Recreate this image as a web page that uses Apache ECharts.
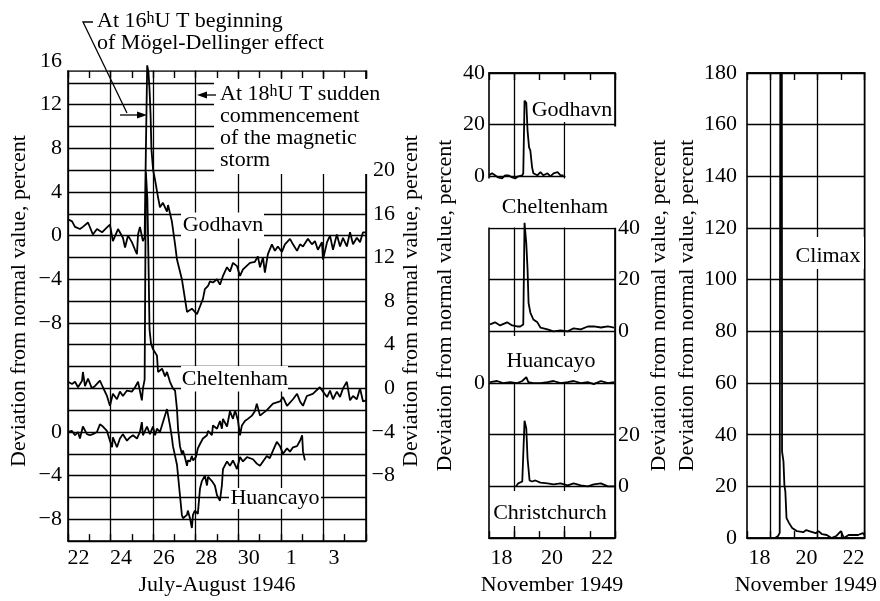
<!DOCTYPE html>
<html><head><meta charset="utf-8">
<script src="https://cdn.jsdelivr.net/npm/echarts@6/dist/echarts.min.js"></script>
<style>html,body{margin:0;padding:0;background:#fff}#c{width:880px;height:601px}</style>
</head><body><div id="c"></div>
<script>
// ---------- DATA (x = day of month; July 1946 days > 31 are August) ----------
const godhavn1946 = [[22.0,1.5],[22.19,1.3],[22.33,0.8],[22.56,0.6],[22.7,0.8],[22.94,1.2],[23.17,0.1],[23.36,0.6],[23.6,0.3],[23.83,0.75],[23.97,1.0],[24.11,-0.5],[24.35,0.6],[24.58,-0.2],[24.68,-1.1],[24.82,0.0],[25.0,-0.6],[25.15,-1.3],[25.24,-1.7],[25.29,0.1],[25.38,0.8],[25.52,-0.5],[25.6,-0.2],[25.66,8],[25.72,15.6],[25.78,15.0],[25.83,13.4],[25.88,11],[25.92,7.9],[26.0,6.0],[26.09,5.1],[26.23,3.5],[26.32,2.6],[26.46,3.0],[26.65,2.2],[26.7,2.8],[26.88,1.3],[26.93,0.6],[27.03,-0.8],[27.12,-2.2],[27.35,-4.0],[27.59,-7.0],[27.82,-6.7],[28.06,-7.2],[28.2,-6.5],[28.34,-5.8],[28.43,-4.9],[28.58,-4.6],[28.67,-4.2],[28.81,-4.3],[29.0,-4.0],[29.14,-4.5],[29.28,-3.7],[29.47,-2.9],[29.61,-3.3],[29.75,-2.5],[29.94,-2.8],[30.08,-3.7],[30.22,-3.1],[30.55,-2.5],[30.78,-2.4],[30.92,-1.9],[31.02,-2.9],[31.16,-2.0],[31.25,-3.4],[31.39,-1.7],[31.58,-0.8],[31.72,-1.4],[31.86,-1.0],[32.05,-1.5],[32.19,-0.8],[32.43,-0.3],[32.57,-0.8],[32.76,-1.4],[32.9,-0.8],[33.04,-1.0],[33.27,-0.3],[33.46,-0.8],[33.6,-0.5],[33.74,-1.3],[33.93,-0.6],[33.98,-2.2],[34.17,-0.6],[34.31,0],[34.45,-1.3],[34.63,0.1],[34.78,-1.0],[34.92,-0.2],[35.1,-1.0],[35.25,0.3],[35.39,-0.8],[35.57,-0.2],[35.72,-0.6],[35.86,0.3],[36.0,0.3]];
const cheltenham1946 = [[22.0,0.6],[22.19,0.4],[22.33,0.6],[22.47,0.1],[22.66,0.7],[22.7,1.5],[22.8,0.2],[22.94,0.9],[23.12,0],[23.26,0.2],[23.5,0.7],[23.64,0.1],[23.83,-0.7],[23.97,-1.6],[24.11,-0.5],[24.3,-1.0],[24.44,-0.3],[24.58,-0.7],[24.77,-0.2],[25.0,-0.3],[25.15,0.1],[25.29,0.6],[25.47,-1.1],[25.52,0],[25.6,0.8],[25.66,19.8],[25.73,17.3],[25.78,11.8],[25.83,5.4],[25.9,4.1],[25.99,3.6],[26.18,3.0],[26.23,1.5],[26.42,1.8],[26.56,1.1],[26.65,1.5],[26.79,0.6],[26.93,0],[27.03,-0.2],[27.12,-1.9],[27.17,-3.7],[27.26,-5.3],[27.35,-6.0],[27.4,-5.7],[27.49,-6.3],[27.59,-7.1],[27.63,-6.6],[27.73,-6.7],[27.82,-6.2],[27.87,-6.6],[28.01,-6.3],[28.1,-5.5],[28.2,-5.1],[28.34,-4.6],[28.53,-4.3],[28.58,-3.9],[28.76,-4.3],[28.81,-3.4],[29.0,-3.7],[29.14,-3.0],[29.23,-3.7],[29.28,-2.8],[29.47,-3.5],[29.61,-2.1],[29.75,-2.8],[29.85,-2.0],[29.99,-3.0],[30.08,-4.3],[30.17,-3.4],[30.31,-3.0],[30.45,-2.8],[30.64,-2.5],[30.78,-2.1],[30.87,-1.4],[31.02,-2.5],[31.34,-2.0],[31.63,-1.4],[31.96,-1.2],[32.1,-0.8],[32.29,-1.6],[32.57,-1.0],[32.76,-0.5],[32.9,-1.2],[33.04,-1.6],[33.22,-0.7],[33.5,-0.5],[33.83,0.1],[33.98,-0.3],[34.17,-0.8],[34.31,-0.2],[34.45,-1.0],[34.63,-0.3],[34.78,-0.8],[34.92,0],[35.1,0.6],[35.25,-1.1],[35.39,-0.7],[35.57,-1.0],[35.72,0],[35.86,-1.2],[36.0,-1.1]];
const huancayo1946 = [[22.0,0],[22.19,0.1],[22.33,-0.3],[22.47,0],[22.56,-0.6],[22.7,0.5],[22.89,-0.2],[23.03,-0.3],[23.17,-0.2],[23.36,0],[23.5,0.7],[23.64,0.5],[23.83,0.1],[23.97,-0.8],[24.07,-1.4],[24.11,-0.5],[24.3,-1.4],[24.44,-0.6],[24.58,-0.2],[24.77,-0.8],[24.91,-0.5],[25.05,-0.3],[25.24,-0.6],[25.38,0],[25.47,0.9],[25.52,-0.3],[25.71,0.5],[25.85,-0.2],[25.99,0.5],[26.09,-0.3],[26.18,0.3],[26.32,0],[26.46,0.9],[26.65,2.1],[26.79,0.6],[26.88,-0.5],[26.93,-1.3],[27.12,-3.0],[27.26,-5.8],[27.35,-7.6],[27.4,-7.9],[27.59,-7.6],[27.63,-7.2],[27.73,-7.9],[27.82,-8.8],[27.87,-7.6],[27.96,-7.2],[28.1,-7.5],[28.2,-5.2],[28.29,-4.5],[28.43,-4.0],[28.53,-4.9],[28.58,-4.1],[28.76,-4.5],[28.9,-4.9],[29.0,-5.8],[29.14,-6.3],[29.23,-4.9],[29.28,-3.4],[29.47,-2.7],[29.61,-3.1],[29.75,-2.6],[29.94,-3.4],[30.08,-2.3],[30.22,-2.7],[30.41,-2.3],[30.69,-2.5],[30.87,-2.9],[31.02,-3.1],[31.34,-2.2],[31.48,-2.4],[31.63,-1.7],[31.81,-0.9],[31.96,-1.3],[32.1,-2.0],[32.29,-1.5],[32.43,-1.8],[32.57,-1.4],[32.76,-1.3],[32.9,-0.8],[33.0,-0.3],[33.04,-1.8],[33.13,-2.6]];

const godhavn1949 = [[18.0,0.4],[18.12,1.2],[18.24,0.4],[18.36,-0.4],[18.52,-0.8],[18.64,0.4],[18.76,0.4],[18.92,-0.4],[19.04,-0.8],[19.16,0],[19.32,0.4],[19.36,1.2],[19.41,29.3],[19.48,28.5],[19.53,17.7],[19.59,11.2],[19.64,10.0],[19.71,3.5],[19.76,1.2],[19.92,0.4],[20.04,1.6],[20.16,0.4],[20.32,1.2],[20.44,0],[20.56,1.2],[20.72,1.6],[20.84,0.4],[20.96,0.4]];
const cheltenham1949 = [[18.04,2.7],[18.24,3.5],[18.44,2.3],[18.72,3.5],[18.92,2.3],[19.12,1.9],[19.24,1.9],[19.36,2.7],[19.41,42],[19.48,34],[19.53,24],[19.57,11],[19.64,7.3],[19.76,4.6],[19.92,3.5],[20.04,1.5],[20.32,0.8],[20.56,0],[20.84,0.4],[21.12,0],[21.36,1.2],[21.64,0.8],[21.92,1.9],[22.16,1.9],[22.44,1.5],[22.72,1.9],[22.96,1.5]];
const huancayo1949 = [[18.04,0.4],[18.32,0.8],[18.56,0],[18.84,0.4],[19.12,0],[19.32,0.8],[19.48,2.3],[19.56,0.4],[19.76,0],[20.04,0],[20.32,0.4],[20.56,0.8],[20.84,0],[21.12,0.4],[21.36,0.8],[21.64,0],[21.92,0.4],[22.16,-0.4],[22.44,0.8],[22.72,0],[22.96,0.4]];
const christchurch1949 = [[19.07,0],[19.16,1.2],[19.32,1.9],[19.41,25.4],[19.48,22.4],[19.53,10.8],[19.61,2.3],[19.71,1.9],[19.84,2.3],[20.04,1.5],[20.32,1.2],[20.56,0.8],[20.84,1.2],[21.12,0.4],[21.36,1.2],[21.64,0.4],[21.92,0],[22.16,0.8],[22.44,1.2],[22.72,0],[22.96,0]];
const climax1949 = [[19.19,0],[19.32,0.8],[19.39,2],[19.46,500],[19.49,33.5],[19.55,29.7],[19.59,20.4],[19.63,18],[19.68,7.7],[19.79,5.8],[19.92,3.9],[20.12,2.7],[20.39,2.3],[20.52,3.1],[20.64,2.7],[20.92,1.9],[21.04,2.7],[21.19,1.5],[21.39,1.2],[21.59,0],[21.79,0.8],[21.99,2.7],[22.12,0],[22.32,1.2],[22.52,1.2],[22.72,1.2],[22.92,1.9],[22.99,1.2]];

const yTitle = 'Deviation from normal value, percent';
const xTitle1946 = 'July-August 1946';
const xTitle1949 = 'November 1949';

// ---------- STYLE ----------
const FONT = '"Liberation Serif", "DejaVu Serif", serif';
const FS = 22;
const BLACK = '#000';
const minus = v => String(v).replace('-', '\u2212');
const lbl = (extra) => Object.assign({color: BLACK, fontFamily: FONT, fontSize: FS}, extra || {});
const nameStyle = {color: BLACK, fontFamily: FONT, fontSize: FS};

function xAx(grid, pos, min, max, opts) {
  const o = {
    type: 'value', gridIndex: grid, position: pos, min: min, max: max, interval: 1,
    axisLine: {show: true, onZero: false, lineStyle: {color: BLACK, width: 1.6}},
    axisTick: {show: true, inside: true, length: 7, lineStyle: {color: BLACK, width: 1.4}},
    axisLabel: {show: false},
    splitLine: {show: false}
  };
  return Object.assign(o, opts || {});
}
function yAx(grid, pos, min, max, interval, keep, opts) {
  const o = {
    type: 'value', gridIndex: grid, position: pos, min: min, max: max, interval: interval,
    axisLine: {show: false}, axisTick: {show: false},
    axisLabel: lbl({formatter: v => keep(v) ? minus(v) : '', showMinLabel: true, showMaxLabel: true}),
    splitLine: {show: false}
  };
  return Object.assign(o, opts || {});
}
function line(data, xi, yi) {
  return {type: 'line', data: data, xAxisIndex: xi, yAxisIndex: yi, showSymbol: false, symbol: 'none',
    lineStyle: {color: BLACK, width: 1.8}, z: 5, clip: true, animation: false};
}
const GRIDLINE = {color: BLACK, width: 1.3};

const option = {
  animation: false,
  backgroundColor: '#fff',
  grid: [
    {left: 68, top: 61, width: 298, height: 482, show: false},
    {left: 489, top: 73, width: 126, height: 467, show: true, borderColor: BLACK, borderWidth: 1.6, backgroundColor: 'transparent'},
    {left: 747, top: 73, width: 125, height: 467, show: true, borderColor: BLACK, borderWidth: 1.6, backgroundColor: 'transparent'}
  ],
  xAxis: [
    xAx(0, 'bottom', 22, 36, {
      axisLabel: lbl({margin: 6, padding: [0, 0, 0, 21], showMinLabel: true,
        formatter: v => (v % 2 !== 0 || v >= 36) ? '' : String(v > 31 ? v - 31 : v)}),
      splitLine: {show: true, lineStyle: {color: [BLACK, 'rgba(0,0,0,0)'], width: 1.3}},
      name: xTitle1946, nameLocation: 'middle', nameGap: 29, nameTextStyle: nameStyle
    }),
    xAx(0, 'top', 22, 36, {offset: -10}),
    xAx(1, 'bottom', 18, 23, {
      axisLabel: lbl({margin: 9, padding: [0, 0, 0, 25], showMinLabel: true,
        formatter: v => (v % 2 !== 0 || v >= 23) ? '' : String(v)}),
      splitLine: {show: true, lineStyle: {color: ['rgba(0,0,0,0)', BLACK], width: 1.3}},
      name: xTitle1949, nameLocation: 'middle', nameGap: 34, nameTextStyle: nameStyle
    }),
    xAx(1, 'top', 18, 23),
    xAx(2, 'bottom', 18, 23, {
      axisLabel: lbl({margin: 9, padding: [0, 0, 0, 25], showMinLabel: true,
        formatter: v => (v % 2 !== 0 || v >= 23) ? '' : String(v)}),
      splitLine: {show: true, lineStyle: {color: ['rgba(0,0,0,0)', BLACK], width: 1.3}},
      name: xTitle1949, nameLocation: 'middle', nameGap: 34, nameTextStyle: nameStyle
    }),
    xAx(2, 'top', 18, 23)
  ],
  yAxis: [
    // left panel
    yAx(0, 'left', -28, 16, 2, v => v >= -8 && v % 4 === 0, {
      axisLine: {show: true, lineStyle: {color: BLACK, width: 1.6}},
      splitLine: {show: true, lineStyle: GRIDLINE},
      axisLabel: lbl({margin: 6, formatter: v => (v >= -8 && v % 4 === 0) ? minus(v) : ''}),
      name: yTitle, nameLocation: 'middle', nameRotate: 90, nameGap: 38, nameTextStyle: nameStyle
    }),
    yAx(0, 'left', -10, 34, 2, v => v <= 0 && v >= -8 && v % 4 === 0, {
      axisLabel: lbl({margin: 6, formatter: v => (v <= 0 && v >= -8 && v % 4 === 0) ? minus(v) : ''})
    }),
    yAx(0, 'right', -14, 30, 2, v => v >= -8 && v <= 20 && v % 4 === 0, {
      axisLine: {show: true, lineStyle: {color: BLACK, width: 1.6}},
      axisLabel: lbl({margin: 29, align: 'right', formatter: v => (v >= -8 && v <= 20 && v % 4 === 0) ? minus(v) : ''}),
      name: yTitle, nameLocation: 'middle', nameRotate: 90, nameGap: 34, nameTextStyle: nameStyle
    }),
    // middle panel
    yAx(1, 'left', -140, 40, 20, v => v >= 0, {
      splitLine: {show: true, lineStyle: GRIDLINE},
      axisLabel: lbl({margin: 4, formatter: v => v >= 0 ? minus(v) : ''}),
      name: yTitle, nameLocation: 'middle', nameRotate: 90, nameGap: 33, nameTextStyle: nameStyle
    }),
    yAx(1, 'left', -60, 120, 20, v => v === 0, {
      axisLabel: lbl({margin: 4, formatter: v => v === 0 ? '0' : ''})
    }),
    yAx(1, 'right', -80, 100, 20, v => v >= 0 && v <= 40, {
      axisLabel: lbl({margin: 3, formatter: v => (v >= 0 && v <= 40) ? minus(v) : ''}),
      name: yTitle, nameLocation: 'middle', nameRotate: 90, nameGap: 33, nameTextStyle: nameStyle
    }),
    yAx(1, 'right', -20, 160, 20, v => v >= 0 && v <= 20, {
      axisLabel: lbl({margin: 3, formatter: v => (v >= 0 && v <= 20) ? minus(v) : ''})
    }),
    // right panel
    yAx(2, 'left', 0, 180, 20, v => true, {
      splitLine: {show: true, lineStyle: GRIDLINE},
      axisLabel: lbl({margin: 10}),
      name: yTitle, nameLocation: 'middle', nameRotate: 90, nameGap: 49, nameTextStyle: nameStyle
    })
  ],
  series: [
    line(godhavn1946, 0, 0),
    line(huancayo1946, 0, 1),
    line(cheltenham1946, 0, 2),
    line(godhavn1949, 2, 3),
    line(huancayo1949, 2, 4),
    line(cheltenham1949, 2, 5),
    line(christchurch1949, 2, 6),
    line(climax1949, 4, 7)
  ]
};

// ---------- annotations / label boxes ----------
const W = {fill: '#fff'};
const rect = (x, y, w, h) => ({type: 'rect', z: 3, silent: true, shape: {x: x, y: y, width: w, height: h}, style: W});
const txt = (s, x, y) => ({type: 'text', z: 4, silent: true, x: x, y: y,
  style: {text: s, font: FS + 'px ' + FONT, fill: BLACK, align: 'center', verticalAlign: 'middle'}});
const richAnn = (s, x, y) => ({type: 'text', z: 6, silent: true, x: x, y: y,
  style: {text: s, fill: BLACK, align: 'left', verticalAlign: 'top',
    rich: {a: {font: FS + 'px ' + FONT, fill: BLACK, lineHeight: 21.7, verticalAlign: 'bottom'},
           s: {font: '16px ' + FONT, fill: BLACK, lineHeight: 21.7, verticalAlign: 'top', padding: [0, 0, 6, 0]}}}});
const ln = (pts) => ({type: 'polyline', z: 6, silent: true, shape: {points: pts}, style: {stroke: BLACK, lineWidth: 1.3, fill: null}});
const head = (pts) => ({type: 'polygon', z: 6, silent: true, shape: {points: pts}, style: {fill: BLACK}});

option.graphic = {elements: [
  rect(66, 54, 302, 16.2),
  rect(214, 79, 155, 95),
  rect(181, 212.5, 83, 26), txt('Godhavn', 223, 225),
  rect(181, 366, 107, 25.5), txt('Cheltenham', 235, 379),
  rect(229, 488, 92, 21), txt('Huancayo', 275, 498),
  rect(530, 80, 83.5, 42), txt('Godhavn', 572, 110),
  rect(565.5, 126.5, 52, 101),
  rect(486, 178.5, 131, 49), txt('Cheltenham', 555, 207),
  rect(505, 336, 94, 46), txt('Huancayo', 551, 361),
  rect(492, 491, 120, 35), txt('Christchurch', 550, 513),
  rect(794, 237, 70, 32), txt('Climax', 828, 256),
  richAnn('{a|At 16}{s|h}{a|U T beginning}\n{a|of M\u00f6gel-Dellinger effect}', 97, 11),
  ln([[93, 22], [83, 22], [127, 113]]),
  ln([[120, 115], [140, 115]]), head([[147, 115], [137, 111.5], [137, 118.5]]),
  richAnn('{a|At 18}{s|h}{a|U T sudden}\n{a|commencement}\n{a|of the magnetic}\n{a|storm}', 220, 84),
  ln([[204, 95], [216, 95]]), head([[197, 95], [207, 91.5], [207, 98.5]])
]};

const chart = echarts.init(document.getElementById('c'), null, {renderer: 'canvas'});
chart.setOption(option);
</script>
</body></html>
